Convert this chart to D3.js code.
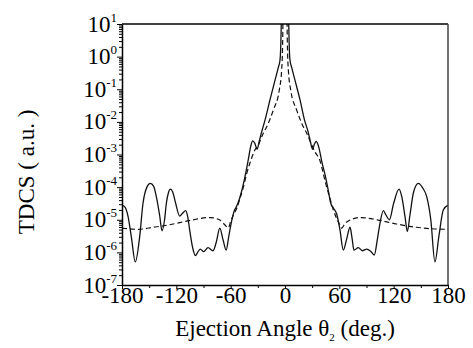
<!DOCTYPE html>
<html>
<head>
<meta charset="utf-8">
<script src="https://cdn.jsdelivr.net/npm/d3@7"></script>
<style>
  html, body { margin: 0; padding: 0; background: #fff; }
  svg { display: block; }
  text { font-family: "Liberation Serif", "Times New Roman", serif; fill: #000; }
</style>
</head>
<body>
<svg id="chart" width="473" height="348"></svg>
<script>
// angles in degrees, TDCS in a.u.
const solidAngle = [
  -180, -176.5, -173.4, -169.7, -165.3, -160.5, -156.8, -152.5, -148.7, -145, -142.1, -138.5,
  -135.8, -133, -131, -128.5, -126.6, -124, -121.1, -116.3, -113, -109.7, -107.5, -105.3,
  -102, -99, -96, -93.5, -89.8, -85, -79.5, -76, -72, -68.5, -65, -62, -59, -56, -54,
  -51.5, -47.8, -44.2, -40.5, -37.8, -35.7, -33.3, -30.8, -28.5, -25.7, -22, -16.6, -11,
  -7.5, -5.5, -4.6, -4.1, -3.6, -3,
  3, 3.6, 4.1, 4.6, 5.5, 7.5, 11, 16.6, 21.5, 25.5, 28, 30.5, 32.5, 34.5, 37.5, 40.5,
  44.2, 47.8, 50.5, 53.4, 57.1, 60.7, 64.4, 68, 71.8, 74, 76.2, 81, 85.4, 90.2, 95,
  98.6, 102, 104.9, 108.6, 111.5, 115.2, 120, 125.9, 129, 132.5, 135.1, 138, 142, 147.3,
  152, 156.5, 161, 165.6, 170, 174.8, 180
];
const solidTdcs = [
  2.8e-5, 2.4e-5, 1.3e-5, 3.0e-6, 5.1e-7, 3.0e-6, 3.2e-5, 1.0e-4, 1.3e-4, 1.05e-4, 5.1e-5, 1.4e-5,
  4.6e-6, 1.0e-5, 3.2e-5, 7.1e-5, 8.7e-5, 7.1e-5, 3.5e-5, 1.3e-5, 1.6e-5, 1.9e-5, 1.26e-5, 4.9e-6,
  1.4e-6, 8.0e-7, 1.05e-6, 1.26e-6, 1.05e-6, 1.4e-6, 1.12e-6, 2.0e-6, 5.5e-6, 2.5e-6, 1.17e-6, 3.2e-6, 8.9e-6, 1.9e-5, 2.4e-5,
  3.5e-5, 7.6e-5, 2.1e-4, 7.1e-4, 1.8e-3, 2.6e-3, 2.2e-3, 1.45e-3, 2.5e-3, 5.0e-3, 1.15e-2, 4.7e-2, 0.19,
  0.45, 0.79, 2.5, 10, 100, 1000,
  1000, 100, 10, 2.5, 0.79, 0.45, 0.19, 4.7e-2, 1.15e-2, 5.0e-3, 2.5e-3, 1.45e-3, 2.1e-3, 2.5e-3, 1.6e-3, 6.3e-4,
  2.4e-4, 7.9e-5, 3.2e-5, 2.3e-5, 1.5e-5, 4.9e-6, 1.17e-6, 2.5e-6, 5.9e-6, 2.8e-6, 1.17e-6, 1.4e-6, 1.12e-6, 1.26e-6, 1.05e-6,
  8.3e-7, 2.5e-6, 7.8e-6, 1.9e-5, 1.4e-5, 1.0e-5, 3.2e-5, 8.7e-5, 5.0e-5, 1.26e-5, 4.4e-6, 1.4e-5, 7.1e-5, 1.3e-4,
  9.5e-5, 5.1e-5, 1.0e-5, 5.1e-7, 3.2e-6, 2.0e-5, 2.8e-5
];

const dashAngle = [
  -180, -162, -145, -129, -103, -83, -72, -66, -62.6, -60, -57, -53.4, -49.7, -46, -42.3,
  -38.6, -33.1, -29.5, -24, -20.2, -12.9, -6.3, -3.7, -2.7, -2.3, -1.8,
  1.8, 2.3, 2.7, 3.7, 6.3, 12.9, 20.2, 24, 29.5, 33.1, 38.6, 42.3, 46, 49.7, 53.4, 57,
  60, 62.6, 66, 72, 83, 103, 123, 145, 162, 180
];
const dashTdcs = [
  5.5e-6, 5.1e-6, 5.9e-6, 6.9e-6, 9.8e-6, 1.17e-5, 9.8e-6, 6.8e-6, 5.6e-6, 8.9e-6, 1.4e-5, 2.2e-5, 4.5e-5, 1.0e-4, 2.6e-4,
  5.6e-4, 1.4e-3, 1.95e-3, 4.5e-3, 7.1e-3, 2.3e-2, 9.5e-2, 0.39, 2.0, 10, 1000,
  1000, 10, 2.0, 0.39, 9.5e-2, 2.3e-2, 7.1e-3, 4.5e-3, 1.95e-3, 1.2e-3, 6.5e-4, 2.6e-4, 1.0e-4, 4.5e-5, 2.0e-5, 1.1e-5,
  7.5e-6, 5.5e-6, 7.5e-6, 9.8e-6, 1.17e-5, 9.8e-6, 7.4e-6, 5.9e-6, 5.3e-6, 5.1e-6
];

const xTicks = [-180, -120, -60, 0, 60, 120, 180];
const xMinorTicks = [-150, -90, -30, 30, 90, 150];
const yTicks = [1e-7, 1e-6, 1e-5, 1e-4, 1e-3, 1e-2, 1e-1, 1e0, 1e1];

const svg = d3.select("#chart");
const plotLeft = 122, plotRight = 448, plotTop = 24, plotBottom = 285;

const x = d3.scaleLinear().domain([-180, 180]).range([plotLeft, plotRight]);
const y = d3.scaleLog().domain([1e-7, 10]).range([plotBottom, plotTop]);

svg.append("clipPath").attr("id", "plotClip")
  .append("rect")
  .attr("x", plotLeft).attr("y", plotTop)
  .attr("width", plotRight - plotLeft).attr("height", plotBottom - plotTop);

const line = d3.line()
  .x(d => x(d[0]))
  .y(d => y(d[1]))
  .curve(d3.curveMonotoneX);

let plot = svg.append("g").attr("clip-path", "url(#plotClip)");

plot.append("path")
  .datum(dashAngle.map((a, i) => [a, dashTdcs[i]]))
  .attr("d", line)
  .attr("fill", "none")
  .attr("stroke", "#111")
  .attr("stroke-width", 1.2)
  .attr("stroke-dasharray", "5,3");

plot.append("path")
  .datum(solidAngle.map((a, i) => [a, solidTdcs[i]]))
  .attr("d", line)
  .attr("fill", "none")
  .attr("stroke", "#111")
  .attr("stroke-width", 1.3);

// frame: top and right
svg.append("line")
  .attr("x1", plotLeft).attr("x2", plotRight).attr("y1", plotTop).attr("y2", plotTop)
  .attr("stroke", "#000").attr("stroke-width", 1.5);
svg.append("line")
  .attr("x1", plotRight).attr("x2", plotRight).attr("y1", plotTop).attr("y2", plotBottom)
  .attr("stroke", "#444").attr("stroke-width", 1.5);

// y axis, minor then major ticks
let minorY = [];
yTicks.slice(0, -1).forEach(t => { for (let k = 2; k <= 9; k++) minorY.push(t * k); });

svg.append("g")
  .attr("transform", `translate(${plotLeft},0)`)
  .call(d3.axisLeft(y).tickValues(minorY).tickSize(3).tickFormat(""))
  .call(g => g.select(".domain").remove())
  .call(g => g.selectAll("line").attr("stroke", "#000"));

let yAxis = svg.append("g")
  .attr("transform", `translate(${plotLeft},0)`)
  .call(d3.axisLeft(y).tickValues(yTicks).tickSize(5).tickSizeOuter(0).tickFormat(""));
yAxis.select(".domain").attr("stroke", "#000").attr("stroke-width", 1.5);
yAxis.selectAll("line").attr("stroke", "#000");

let yLab = svg.append("g").selectAll("text")
  .data(yTicks)
  .join("text")
  .attr("x", plotLeft - 5)
  .attr("y", d => y(d) + 7.5)
  .attr("text-anchor", "end")
  .style("font-size", "23px");
yLab.append("tspan").text("10");
yLab.append("tspan")
  .attr("dy", -10)
  .style("font-size", "13px")
  .text(d => Math.round(Math.log10(d)));

// x axis
svg.append("g")
  .attr("transform", `translate(0,${plotBottom})`)
  .call(d3.axisBottom(x).tickValues(xMinorTicks).tickSize(3).tickFormat(""))
  .call(g => g.select(".domain").remove())
  .call(g => g.selectAll("line").attr("stroke", "#000"));

let xAxis = svg.append("g")
  .attr("transform", `translate(0,${plotBottom})`)
  .call(d3.axisBottom(x).tickValues(xTicks).tickSize(4).tickSizeOuter(0).tickFormat(d => d));
xAxis.select(".domain").attr("stroke", "#000").attr("stroke-width", 1.5);
xAxis.selectAll("line").attr("stroke", "#000");
xAxis.selectAll("text")
  .attr("y", 18).attr("dy", 0)
  .attr("fill", "#000")
  .style("font-size", "23px")
  .style("font-family", "Liberation Serif, serif");

// axis titles
let xt = svg.append("text")
  .attr("x", (plotLeft + plotRight) / 2)
  .attr("y", 336)
  .attr("text-anchor", "middle")
  .style("font-size", "23px");
xt.append("tspan").text("Ejection Angle θ");
xt.append("tspan").attr("dy", 5).style("font-size", "11px").text("2");
xt.append("tspan").attr("dy", -5).text(" (deg.)");

svg.append("text")
  .attr("transform", "translate(34,172) rotate(-90)")
  .attr("text-anchor", "middle")
  .style("font-size", "23px")
  .text("TDCS ( a.u. )");
</script>
</body>
</html>
